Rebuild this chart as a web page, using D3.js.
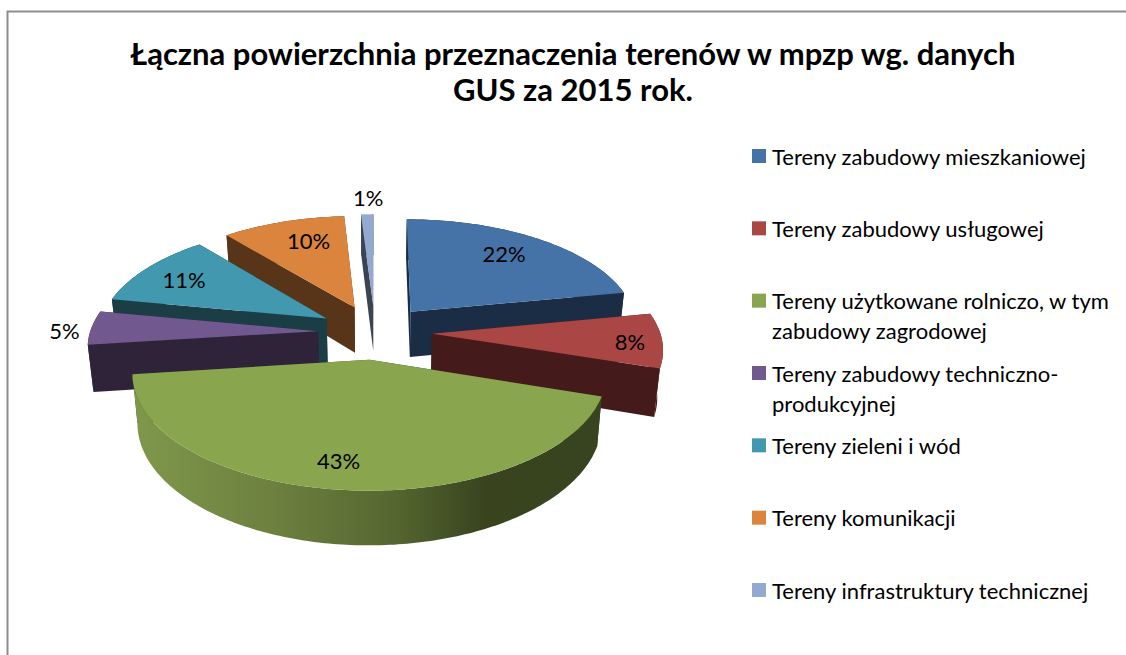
<!DOCTYPE html>
<html>
<head>
<meta charset="utf-8">
<script src="https://cdn.jsdelivr.net/npm/d3@7"></script>
<style>
  html, body { margin: 0; padding: 0; background: #fff; }
  svg { display: block; }
  text { font-family: Lato, "Open Sans", sans-serif; fill: #000; }
</style>
</head>
<body>
<svg id="chart" width="1126" height="655"></svg>
<script>
const titleLines = ["Łączna powierzchnia przeznaczenia terenów w mpzp wg. danych", "GUS za 2015 rok."];
const categories = [
  "Tereny zabudowy mieszkaniowej",
  "Tereny zabudowy usługowej",
  "Tereny użytkowane rolniczo, w tym zabudowy zagrodowej",
  "Tereny zabudowy techniczno-produkcyjnej",
  "Tereny zieleni i wód",
  "Tereny komunikacji",
  "Tereny infrastruktury technicznej"
];
const legendLines = [
  ["Tereny zabudowy mieszkaniowej"],
  ["Tereny zabudowy usługowej"],
  ["Tereny użytkowane rolniczo, w tym", "zabudowy zagrodowej"],
  ["Tereny zabudowy techniczno-", "produkcyjnej"],
  ["Tereny zieleni i wód"],
  ["Tereny komunikacji"],
  ["Tereny infrastruktury technicznej"]
];
const values = [22, 8, 43, 5, 11, 10, 1];
const topColors = ["#4573a7", "#aa4643", "#89a54e", "#71588f", "#4198af", "#db843d", "#93a9cf"];
const sideColors = ["#1b2d45", "#451a1a", "url(#greenRim)", "#2e2339", "#1a3d46", "#583518", "#3b4453"];

// layout of the 3d pie
const cx = 375, cy = 332;
const R = 228, S = 108, D = 46.5;
const perspective = 0.12;    // front of the disc gets bigger
const baseShrink = 0.02;     // lower rim is a bit narrower
const explode = 0.25;
const drawOrder = [6, 5, 4, 3, 0, 1, 2];
const labelRadius = [0.75, 0.87, 0.75, 1.115, 0.75, 0.75, 1.2];
const labelNudge = [[-4, -2], [-2, 2], [-12, 6], [-1, 3], [-6, -1], [9, -1], [2, -1]];

const svg = d3.select("#chart");

const project = (u, v, z) => {
  const w = 1 - perspective * v;
  return [cx + R * u / w * (1 - baseShrink * z), cy + (S * v + D * z) / w];
};

const defs = svg.append("defs");
const grad = defs.append("linearGradient")
  .attr("id", "greenRim")
  .attr("gradientUnits", "userSpaceOnUse")
  .attr("x1", 134).attr("x2", 600).attr("y1", 0).attr("y2", 0);
[[0, "#7f984b"], [0.3, "#6d803f"], [0.55, "#566830"], [0.75, "#39441f"], [1, "#38431f"]]
  .forEach(s => grad.append("stop").attr("offset", s[0]).attr("stop-color", s[1]));

// frame, only top and left are in the picture
svg.append("path")
  .attr("d", "M7.5,655V11.5H1126")
  .attr("fill", "none")
  .attr("stroke", "#8e8e8e")
  .attr("stroke-width", 2);

svg.append("g").selectAll("text")
  .data(titleLines)
  .join("text")
  .attr("x", 573)
  .attr("y", (d, i) => 65 + i * 36)
  .attr("text-anchor", "middle")
  .style("font-size", "31px")
  .style("font-weight", "bold")
  .text(d => d);

const pie = d3.pie().sort(null).value(d => d);
const arcs = pie(values);
const line = d3.line();

const mid = a => (a.startAngle + a.endAngle) / 2;
// point on the top of an exploded slice, r=0 is its apex
const slicePoint = (a, angle, r, z) => {
  const m = mid(a);
  const u = explode * Math.sin(m) + r * Math.sin(angle);
  const v = -explode * Math.cos(m) - r * Math.cos(angle);
  return project(u, v, z);
};
const arcAngles = a => {
  const n = Math.max(2, Math.ceil((a.endAngle - a.startAngle) * 60));
  return d3.range(n + 1).map(i => a.startAngle + (a.endAngle - a.startAngle) * i / n);
};

const pieG = svg.append("g");

drawOrder.forEach(i => {
  const a = arcs[i];
  const g = pieG.append("g");
  const angles = arcAngles(a);
  const faces = [a.startAngle, a.endAngle].map(t => [
    slicePoint(a, t, 0, 0), slicePoint(a, t, 1, 0), slicePoint(a, t, 1, 1), slicePoint(a, t, 0, 1)
  ]);
  faces.forEach(f => {
    g.append("path")
      .attr("d", line(f) + "Z")
      .attr("fill", sideColors[i] === "url(#greenRim)" ? "#38431f" : sideColors[i]);
  });
  const rim = angles.map(t => slicePoint(a, t, 1, 0))
    .concat(angles.slice().reverse().map(t => slicePoint(a, t, 1, 1)));
  g.append("path").attr("d", line(rim) + "Z").attr("fill", sideColors[i]);
  const top = [slicePoint(a, 0, 0, 0)].concat(angles.map(t => slicePoint(a, t, 1, 0)));
  g.append("path").attr("d", line(top) + "Z").attr("fill", topColors[i]);
});

// data labels
svg.append("g").selectAll("text")
  .data(arcs)
  .join("text")
  .attr("x", (d, i) => slicePoint(d, mid(d), labelRadius[i], 0)[0] + labelNudge[i][0])
  .attr("y", (d, i) => slicePoint(d, mid(d), labelRadius[i], 0)[1] + labelNudge[i][1])
  .attr("text-anchor", "middle")
  .attr("dominant-baseline", "central")
  .style("font-size", "22px")
  .text(d => d.value + "%");

// legend
const legendY = d3.scalePoint().domain(categories).range([156, 590]);
const legend = svg.append("g").selectAll("g")
  .data(categories)
  .join("g")
  .attr("transform", d => `translate(752,${legendY(d)})`);
legend.append("rect")
  .attr("y", -7)
  .attr("width", 14)
  .attr("height", 14)
  .attr("fill", (d, i) => topColors[i]);
legend.each(function (d, i) {
  d3.select(this).selectAll("text")
    .data(legendLines[i])
    .join("text")
    .attr("x", 20)
    .attr("y", (t, j) => j * 30)
    .attr("dominant-baseline", "central")
    .style("font-size", "22px")
    .text(t => t);
});
</script>
</body>
</html>
